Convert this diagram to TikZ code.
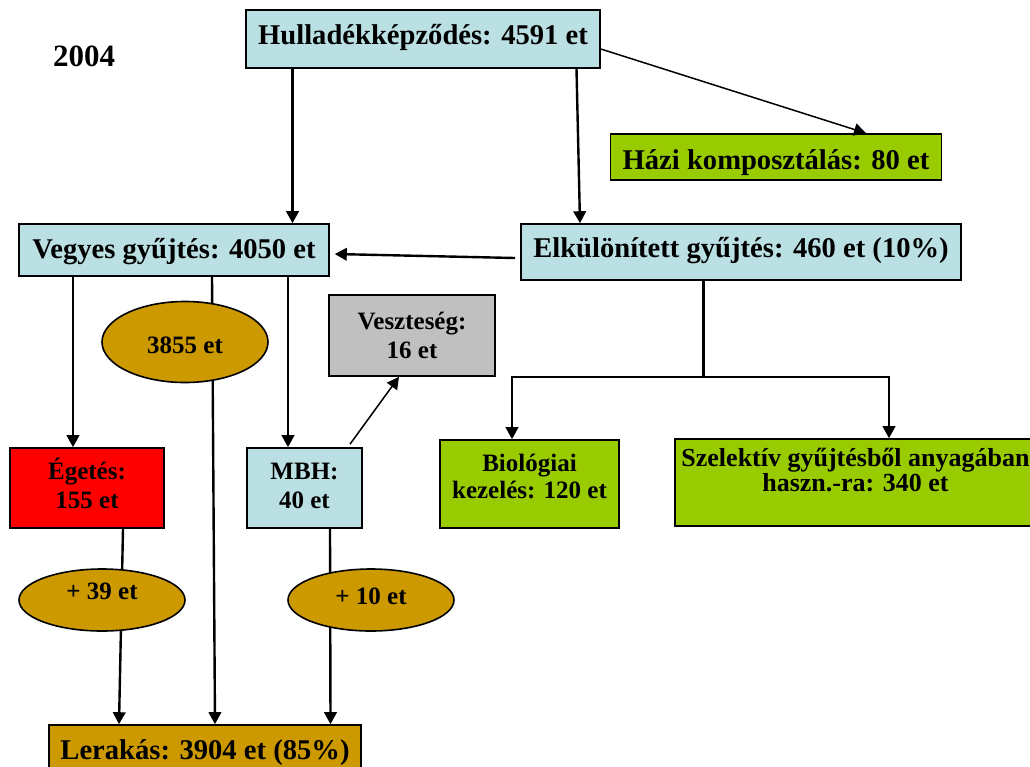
\documentclass[tikz,border=0pt]{standalone}
\usepackage{fontspec}
\setmainfont{Liberation Serif}
\usetikzlibrary{arrows.meta,shapes.geometric}

\definecolor{boxblue}{RGB}{187,224,227}
\definecolor{boxgreen}{RGB}{153,204,0}
\definecolor{boxgold}{RGB}{204,153,0}
\definecolor{boxgray}{RGB}{192,192,192}
\definecolor{boxred}{RGB}{255,0,0}

% two centred lines whose baseline is the first line
\newcommand{\twolines}[2]{\begin{tabular}[t]{@{}c@{}}#1\\#2\end{tabular}}

\begin{document}
\begin{tikzpicture}[x=1pt,y=-1pt,
  bigtxt/.style={font=\fontsize{28.6}{30}\selectfont\bfseries},
  smalltxt/.style={font=\fontsize{25}{29}\selectfont\bfseries},
  greentxt/.style={font=\fontsize{25}{26.5}\selectfont\bfseries},
  wide green/.style={font=\fontsize{26}{25}\selectfont\bfseries},
  % baseline placed #1/2 below (or above, if negative) the node centre
  bl/.style={text depth=0pt, text height=#1},
  bldown/.style={text height=0pt, text depth=#1},
  box/.style={draw=black, line width=1.6pt, inner sep=0pt, align=center},
  oval/.style={ellipse, draw=black, line width=1.6pt, fill=boxgold, inner sep=0pt},
  arr/.style={line width=2.4pt, -{Triangle[length=12pt,width=12.5pt]}},
  thinarr/.style={line width=1.5pt, -{Triangle[length=12pt,width=12.5pt]}},
  joinline/.style={line width=2.4pt},
]
\useasboundingbox (0,0) rectangle (1030,766);
\clip (0,0) rectangle (1030,766);
\fill[white] (0,0) rectangle (1030,766);

% year
\node[font=\fontsize{31}{33}\selectfont\bfseries, inner sep=0pt] (year) at (84,56) {2004};

% boxes
\node[box, bigtxt, fill=boxblue, minimum width=354pt, minimum height=58pt, bl=10pt]
  (hull) at (423,39) {Hulladékképződés: 4591 et};
\node[box, bigtxt, fill=boxgreen, minimum width=331pt, minimum height=46pt, bl=24pt]
  (hazi) at (776,157) {Házi komposztálás: 80 et};
\node[box, bigtxt, fill=boxblue, minimum width=310pt, minimum height=52pt, bl=16.6pt]
  (vegyes) at (174,250) {Vegyes gyűjtés: 4050 et};
\node[box, bigtxt, fill=boxblue, minimum width=440pt, minimum height=56pt, bl=10.6pt]
  (elkul) at (741,252) {Elkülönített gyűjtés: 460 et (10\%)};
\node[box, smalltxt, fill=boxgray, minimum width=166pt, minimum height=81pt, bldown=13pt]
  (veszt) at (412,335.5) {\twolines{Veszteség:}{16 et}};
\node[box, smalltxt, fill=boxred, minimum width=154pt, minimum height=80pt, bldown=18pt]
  (eget) at (87,488) {\twolines{Égetés:}{155 et}};
\node[box, smalltxt, fill=boxblue, minimum width=115pt, minimum height=80pt, bldown=18pt]
  (mbh) at (304.5,488) {\twolines{MBH:}{40 et}};
\node[box, greentxt, fill=boxgreen, minimum width=179pt, minimum height=88pt, bldown=24.6pt]
  (bio) at (529.5,484) {\twolines{Biológiai}{kezelés: 120 et}};
\node[box, wide green, fill=boxgreen, minimum width=361pt, minimum height=87pt, bldown=33pt]
  (szel) at (855.5,482.5) {\twolines{Szelektív gyűjtésből anyagában}{haszn.-ra: 340 et}};
\node[box, bigtxt, fill=boxgold, minimum width=312pt, minimum height=54pt, bl=14pt]
  (lerak) at (205,752) {Lerakás: 3904 et (85\%)};

% connectors from the top box
\draw[arr] ([xshift=-130.5pt]hull.south) -- ([xshift=-130.5pt]hull.south |- vegyes.north);
\draw[arr] ([xshift=153.5pt]hull.south) -- ([xshift=-161pt]elkul.north);
\draw[thinarr] ([yshift=-10pt]hull.east) -- ([xshift=90pt]hazi.north);
\draw[arr] ([xshift=-5pt,yshift=-6pt]elkul.west) -- ([xshift=5pt,yshift=-4pt]vegyes.east);

% mixed collection branches
\draw[arr] ([xshift=-101pt]vegyes.south) -- ([xshift=-101pt]vegyes.south |- eget.north);
\draw[arr] ([xshift=38pt]vegyes.south) -- ([xshift=10pt]lerak.north);
\draw[arr] ([xshift=114pt]vegyes.south) -- ([xshift=114pt]vegyes.south |- mbh.north);
\draw[thinarr] ([xshift=45.5pt,yshift=3pt]mbh.north) -- ([xshift=-13pt]veszt.south);
\draw[arr] ([xshift=36pt]eget.south) -- ([xshift=-86pt]lerak.north);
\draw[arr] ([xshift=25.5pt]mbh.south) -- ([xshift=125.5pt]lerak.north);

% separate collection split
\coordinate (split) at (703.5,377);
\draw[joinline] ([xshift=-37.5pt]elkul.south) -- (split);
\draw[arr] (split) -| ([xshift=-17.5pt]bio.north);
\draw[arr] (split) -| ([xshift=33.5pt]szel.north);

% quantity ovals sitting on the flows
\node[oval, smalltxt, minimum width=166pt, minimum height=81pt, bl=22.6pt]
  (e3855) at (185,342) {3855 et};
\node[oval, smalltxt, minimum width=166pt, minimum height=62pt, bldown=2pt]
  (e39) at (102,600) {+ 39 et};
\node[oval, smalltxt, minimum width=166pt, minimum height=62pt, bl=8pt]
  (e10) at (371,600) {+ 10 et};
\end{tikzpicture}
\end{document}
